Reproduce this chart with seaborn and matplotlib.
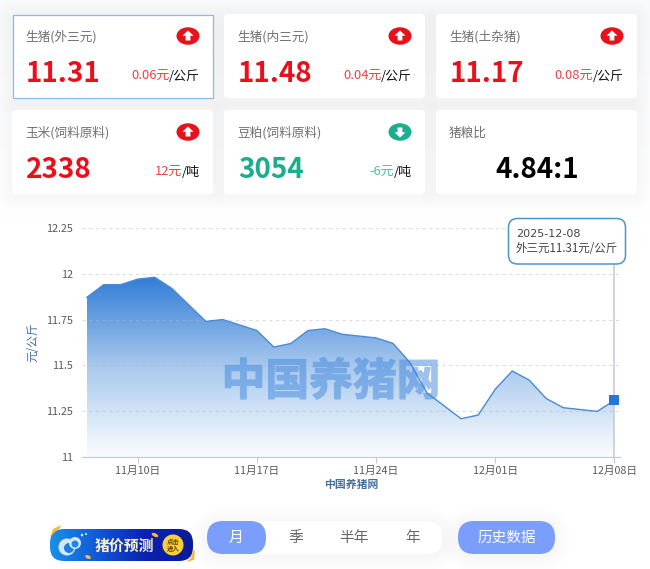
import numpy as np
import pandas as pd
import matplotlib
matplotlib.use("Agg")
import matplotlib.pyplot as plt
import matplotlib.dates as mdates
import matplotlib.patheffects as pe
from matplotlib.colors import LinearSegmentedColormap
from matplotlib.patches import FancyBboxPatch, Circle, Ellipse, Polygon, Rectangle
import seaborn as sns

# series
dates = pd.date_range("2025-11-07", "2025-12-08", freq="D")
prices = [11.87, 11.94, 11.94, 11.97, 11.98, 11.92, 11.83, 11.74, 11.75, 11.72, 11.69,
          11.60, 11.62, 11.69, 11.70, 11.67, 11.66, 11.65, 11.62, 11.515, 11.35, 11.28,
          11.21, 11.23, 11.37, 11.47, 11.42, 11.32, 11.27, 11.26, 11.25, 11.31]
y_ticks = [11, 11.25, 11.5, 11.75, 12, 12.25]
y_labels = ["11", "11.25", "11.5", "11.75", "12", "12.25"]
x_ticks = ["2025-11-10", "2025-11-17", "2025-11-24", "2025-12-01", "2025-12-08"]
x_labels = ["11月10日", "11月17日", "11月24日", "12月01日", "12月08日"]

# cards
card_titles = ["生猪(外三元)", "生猪(内三元)", "生猪(土杂猪)", "玉米(饲料原料)", "豆粕(饲料原料)", "猪粮比"]
card_values = ["11.31", "11.48", "11.17", "2338", "3054", "4.84:1"]
card_deltas = ["0.06元", "0.04元", "0.08元", "12元", "-6元", ""]
card_units = ["/公斤", "/公斤", "/公斤", "/吨", "/吨", ""]
card_dirs = ["up", "up", "up", "up", "down", ""]
period_labels = ["月", "季", "半年", "年"]

RED = "#e8101a"
GREEN = "#1aae8f"
BLUE = "#7b9dfb"
GOLD = "#f6b93b"

sns.set_theme(style="white")
plt.rcParams["font.family"] = ["Noto Sans CJK SC", "DejaVu Sans"]

fig = plt.figure(figsize=(6.5, 5.69), dpi=100, facecolor="white")

# page layer in pixels, y going down like the reference
bg = fig.add_axes([0, 0, 1, 1], zorder=0)
bg.axis("off")


def rounded(ax, x0, y0, x1, y1, r, color, zorder=2, **kw):
    p = FancyBboxPatch((x0 + r, y0 + r), x1 - x0 - 2 * r, y1 - y0 - 2 * r,
                       boxstyle="round,pad=%s,rounding_size=%s" % (r, r),
                       fc=color, ec=kw.pop("ec", "none"), zorder=zorder, **kw)
    ax.add_patch(p)
    return p


def shadow(ax, x0, y0, x1, y1, r, spread=14, alpha=0.004):
    for s in range(spread, 0, -2):
        rounded(ax, x0 - s, y0 - s + 2, x1 + s, y1 + s + 2, r + s, "#6a7484", zorder=1, alpha=alpha)


def half_alpha(img, dpi):
    # fade the stroked watermark as one piece, so the outline does not show
    img = img.copy()
    img[..., 3] *= 0.5
    return img, 0, 0


# faint page tint behind the cards
bg.imshow(np.linspace(0, 1, 50).reshape(-1, 1),
          cmap=LinearSegmentedColormap.from_list("page", ["#f8f9fb", "#ffffff"]),
          extent=[0, 650, 225, 0], aspect="auto", zorder=0, vmin=0, vmax=1)
bg.set_xlim(0, 650)
bg.set_ylim(569, 0)

card_x = [12, 224, 436]
card_y = [14, 110]
card_w = 201
card_h = 84
renderer = fig.canvas.get_renderer()

for i, title in enumerate(card_titles):
    x0 = card_x[i % 3]
    y0 = card_y[i // 3]
    shadow(bg, x0, y0, x0 + card_w, y0 + card_h, 4)
    if i == 0:
        bg.add_patch(Rectangle((x0 + 0.5, y0 + 0.5), card_w - 1, card_h - 1, fc="white", ec="#8fb8e2", lw=0.9, zorder=2))
    else:
        rounded(bg, x0, y0, x0 + card_w, y0 + card_h, 4, "white")
    bg.text(x0 + 13, y0 + 23, title, fontsize=9.1, color="#707070", va="center", ha="left", zorder=3)

    direction = card_dirs[i]
    if direction == "":
        bg.text(x0 + card_w / 2 + 0.5, y0 + 59.5, card_values[i], fontsize=20, fontweight="bold",
                color="black", va="center", ha="center", zorder=3)
        continue

    color = RED if direction == "up" else GREEN
    bg.text(x0 + 14, y0 + 60, card_values[i], fontsize=20, fontweight="bold",
            color=color, va="center", ha="left", zorder=3)

    # arrow badge
    bx = x0 + 176
    by = y0 + 22
    bg.add_patch(Ellipse((bx, by), 23, 17.5, fc=color, ec="none", zorder=3))
    sign = -1 if direction == "up" else 1
    arrow = [(bx, by + sign * 5.5), (bx + 5.5, by + sign * 0.3), (bx + 2.4, by + sign * 0.3),
             (bx + 2.4, by - sign * 4.5), (bx - 2.4, by - sign * 4.5), (bx - 2.4, by + sign * 0.3),
             (bx - 5.5, by + sign * 0.3)]
    bg.add_patch(Polygon(arrow, fc="white", ec="none", zorder=4))

    # delta, then unit in black to its right
    right = x0 + 188
    unit = bg.text(right, y0 + 62, card_units[i], fontsize=9.3, color="#111111", va="center", ha="right", zorder=3)
    w = unit.get_window_extent(renderer).width
    bg.text(right - w, y0 + 62, card_deltas[i], fontsize=9.3, color=color, alpha=0.8, va="center", ha="right", zorder=3)

# bottom controls
shadow(bg, 207, 521, 442, 554, 16, spread=16, alpha=0.005)
rounded(bg, 207, 521, 442, 554, 16, "white")
rounded(bg, 207, 521, 266, 554, 16, BLUE, zorder=3)
period_x = [236, 296, 354, 413]
for lab, px in zip(period_labels, period_x):
    bg.text(px, 538, lab, fontsize=10.6, color="white" if lab == "月" else "#666666",
            va="center", ha="center", zorder=4)
shadow(bg, 458, 521, 555, 554, 16, spread=16, alpha=0.005)
rounded(bg, 458, 521, 555, 554, 16, BLUE)
bg.text(506.5, 538, "历史数据", fontsize=10.5, color="white", va="center", ha="center", zorder=4)

# forecast badge
pill = rounded(bg, 50, 529, 193, 561, 14, "none", zorder=3)
grad = bg.imshow(np.linspace(0, 1, 100).reshape(1, -1),
                 cmap=LinearSegmentedColormap.from_list("btn", ["#1a8fe8", "#1258d6", "#0a22b0", "#0a1a98"]),
                 extent=[50, 193, 561, 529], aspect="auto", zorder=3)
grad.set_clip_path(pill)
bg.set_xlim(0, 650)
bg.set_ylim(569, 0)
bg.add_patch(Polygon([(50, 537), (53, 529), (61, 525), (60, 528), (55, 532)], fc=GOLD, ec="none", zorder=4))
bg.add_patch(Polygon([(186, 562), (191, 558), (193, 550), (195, 551), (194, 560)], fc=GOLD, ec="none", zorder=4))
bg.add_patch(Ellipse((155, 535), 7, 3.5, angle=25, fc=GOLD, ec="none", zorder=4))
bg.add_patch(Ellipse((88, 557), 6, 3.5, angle=25, fc=GOLD, ec="none", zorder=4))
bg.add_patch(Circle((67, 547), 8.5, fc="#d5e8fb", ec="none", zorder=4))
bg.add_patch(Circle((69, 548), 5, fc="#1a7fe0", ec="none", zorder=4))
bg.add_patch(Circle((75, 543), 6, fc="#d5e8fb", ec="none", zorder=4))
bg.add_patch(Circle((75, 544), 3.5, fc="#1f86e2", ec="none", zorder=4))
bg.add_patch(Circle((82, 535), 1.3, fc="#d5e8fb", ec="none", zorder=4))
bg.add_patch(Circle((86, 534), 1.1, fc="#d5e8fb", ec="none", zorder=4))
bg.text(124, 546, "猪价预测", fontsize=10.7, fontweight="bold", color="#fbf2c8", va="center", ha="center", zorder=5)
bg.add_patch(Circle((173, 545), 10.5, fc="#f9cf35", ec="none", zorder=4))
bg.text(173, 545, "点击\n进入", fontsize=4.6, fontweight="bold", color="#5a3c00", va="center", ha="center",
        linespacing=1.0, zorder=5)

# chart
ax = fig.add_axes([81.7 / 650, 1 - 457.3 / 569, 538.3 / 650, 229.6 / 569], zorder=2)
ax.patch.set_alpha(0)
df = pd.DataFrame({"date": dates, "price": prices})

x_num = mdates.date2num(df["date"])
area = ax.fill_between(df["date"], df["price"], 11, color="none", lw=0)
cmap = LinearSegmentedColormap.from_list("area", ["#317cd6", "#a9c9ee", "#fbfdff"])
img = ax.imshow(np.linspace(0, 1, 256).reshape(-1, 1), cmap=cmap, aspect="auto", zorder=1,
                extent=[x_num[0], x_num[-1], 11, max(prices)], vmin=0, vmax=1)
img.set_clip_path(area.get_paths()[0], ax.transData)

sns.lineplot(data=df, x="date", y="price", ax=ax, color="#4a8ad8", lw=1, zorder=3, legend=False)

ax.set_xlim(x_num[0] - 5 / 17.14, x_num[-1] + 5.7 / 17.14)
ax.set_ylim(11, 12.25)
ax.set_yticks(y_ticks)
ax.set_yticklabels(y_labels)
ax.set_xticks(pd.to_datetime(x_ticks))
ax.set_xticklabels(x_labels)
ax.tick_params(axis="y", length=0, pad=6, labelsize=7.8, labelcolor="#5a5a5a")
ax.tick_params(axis="x", length=4, width=0.8, color="#c3cbd6", pad=2, labelsize=7.7, labelcolor="#5a5a5a", bottom=True)
for s in ["top", "right", "left"]:
    ax.spines[s].set_visible(False)
ax.spines["bottom"].set_color("#c3cbd6")
ax.spines["bottom"].set_linewidth(0.9)
ax.grid(axis="y", color="#b5b5b5", alpha=0.45, lw=0.8, ls=(0, (3, 3)), zorder=2)
ax.grid(axis="x", visible=False)
ax.set_axisbelow(False)
ax.set_xlabel("中国养猪网", fontsize=7.8, fontweight="bold", color="#44709c", labelpad=3)
ax.set_ylabel("元/公斤", fontsize=8.4, color="#44709c", labelpad=5)

# hover line, marker, watermark, tooltip
ax.plot([x_num[-1], x_num[-1]], [11, 12.3], color="#c4c9d2", lw=1.1, zorder=4, clip_on=False)
ax.scatter([x_num[-1]], [prices[-1]], marker="s", s=52, color="#2178d8", zorder=6, clip_on=False, linewidths=0)

top = fig.add_axes([0, 0, 1, 1], zorder=3)
top.set_xlim(0, 650)
top.set_ylim(569, 0)
top.axis("off")
mark = top.text(331, 382, "中国养猪网", fontsize=31.5, fontweight="black", color="#3f86dc",
                va="center", ha="center", zorder=5)
mark.set_path_effects([pe.Stroke(linewidth=1.0, foreground="#3f86dc")])
mark.set_agg_filter(half_alpha)
rounded(top, 508.5, 218.5, 625.5, 264, 9, "white", zorder=6, ec="#4e93c9", lw=1.1)
top.text(516, 233.5, "2025-12-08", fontsize=8, family="DejaVu Sans", color="#444444", va="center", ha="left", zorder=7)
top.text(516, 248, "外三元11.31元/公斤", fontsize=8.3, color="#444444", va="center", ha="left", zorder=7)

fig.savefig("out.png", dpi=100)
